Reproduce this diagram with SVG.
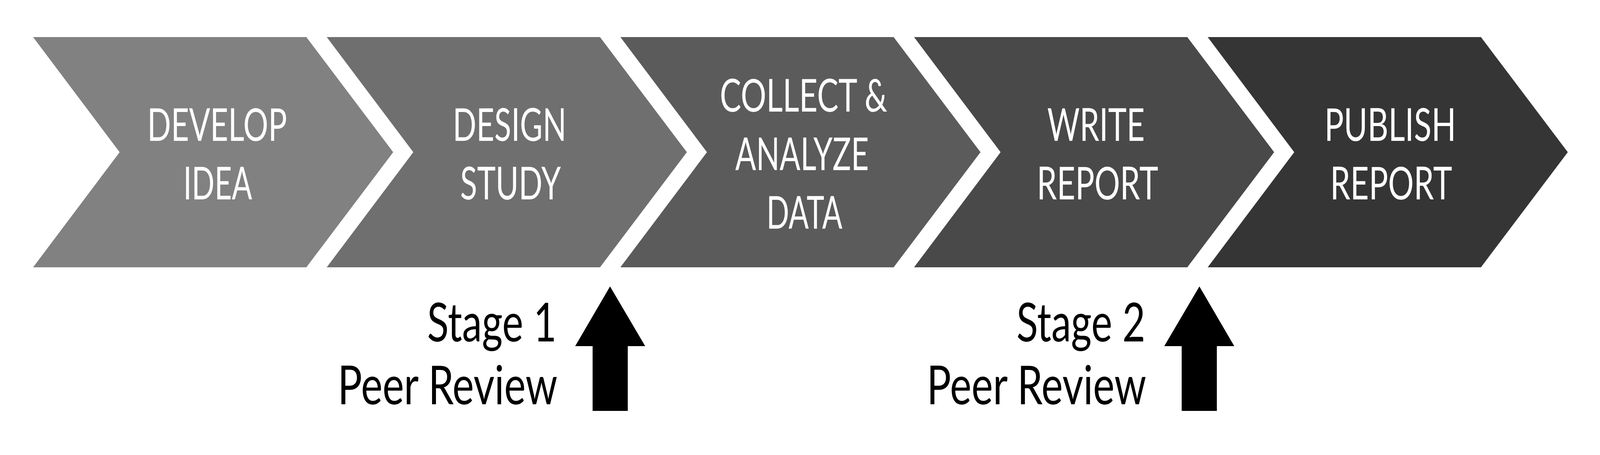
<svg xmlns="http://www.w3.org/2000/svg" width="5416" height="1166" viewBox="0 0 5416 1166" preserveAspectRatio="none">
<style>
svg{width:100vw;height:100vh;display:block}
.lbl{font-family:Lato,"Noto Sans","Liberation Sans",sans-serif;font-size:116px;fill:#ffffff;text-anchor:middle}
.rev{font-family:Lato,"Noto Sans","Liberation Sans",sans-serif;font-size:138px;fill:#000000;text-anchor:end}
.arrow{fill:#000000}
</style>
<rect x="0" y="0" width="5416" height="1166" fill="#ffffff"/>
<g id="develop-idea">
<polygon points="112,95 1037,95 1331,390 1037,685 112,685 405,390" fill="#818181"/>
<text class="lbl" x="735" y="361" textLength="473" lengthAdjust="spacingAndGlyphs">DEVELOP</text>
<text class="lbl" x="737" y="511" textLength="233" lengthAdjust="spacingAndGlyphs">IDEA</text>
</g>
<g id="design-study">
<polygon points="1106,95 2031,95 2325,390 2031,685 1106,685 1399,390" fill="#6f6f6f"/>
<text class="lbl" x="1725" y="361" textLength="385" lengthAdjust="spacingAndGlyphs">DESIGN</text>
<text class="lbl" x="1728" y="511" textLength="341" lengthAdjust="spacingAndGlyphs">STUDY</text>
</g>
<g id="collect-analyze-data">
<polygon points="2100,95 3025,95 3319,390 3025,685 2100,685 2393,390" fill="#5b5b5b"/>
<text class="lbl" x="2720" y="286" textLength="567" lengthAdjust="spacingAndGlyphs">COLLECT &amp;</text>
<text class="lbl" x="2715" y="436" textLength="452" lengthAdjust="spacingAndGlyphs">ANALYZE</text>
<text class="lbl" x="2723" y="586" textLength="257" lengthAdjust="spacingAndGlyphs">DATA</text>
</g>
<g id="write-report">
<polygon points="3094,95 4019,95 4313,390 4019,685 3094,685 3387,390" fill="#494949"/>
<text class="lbl" x="3710" y="361" textLength="330" lengthAdjust="spacingAndGlyphs">WRITE</text>
<text class="lbl" x="3715" y="511" textLength="411" lengthAdjust="spacingAndGlyphs">REPORT</text>
</g>
<g id="publish-report">
<polygon points="4088,95 5013,95 5307,390 5013,685 4088,685 4381,390" fill="#353535"/>
<text class="lbl" x="4706" y="361" textLength="446" lengthAdjust="spacingAndGlyphs">PUBLISH</text>
<text class="lbl" x="4709" y="511" textLength="413" lengthAdjust="spacingAndGlyphs">REPORT</text>
</g>
<g id="stage1-review">
<text class="rev" x="1884" y="875" textLength="438" lengthAdjust="spacingAndGlyphs">Stage 1</text>
<text class="rev" x="1887" y="1036" textLength="744" lengthAdjust="spacingAndGlyphs">Peer Review</text>
</g>
<g id="stage2-review">
<text class="rev" x="3877" y="875" textLength="436" lengthAdjust="spacingAndGlyphs">Stage 2</text>
<text class="rev" x="3880" y="1036" textLength="743" lengthAdjust="spacingAndGlyphs">Peer Review</text>
</g>
<g id="connectors">
<polygon class="arrow" points="2065,734 2184,887 2125,887 2125,1053 2006,1053 2006,887 1947,887"/>
<polygon class="arrow" points="4060,734 4178,887 4119,887 4119,1053 4000,1053 4000,887 3941,887"/>
</g>
</svg>
